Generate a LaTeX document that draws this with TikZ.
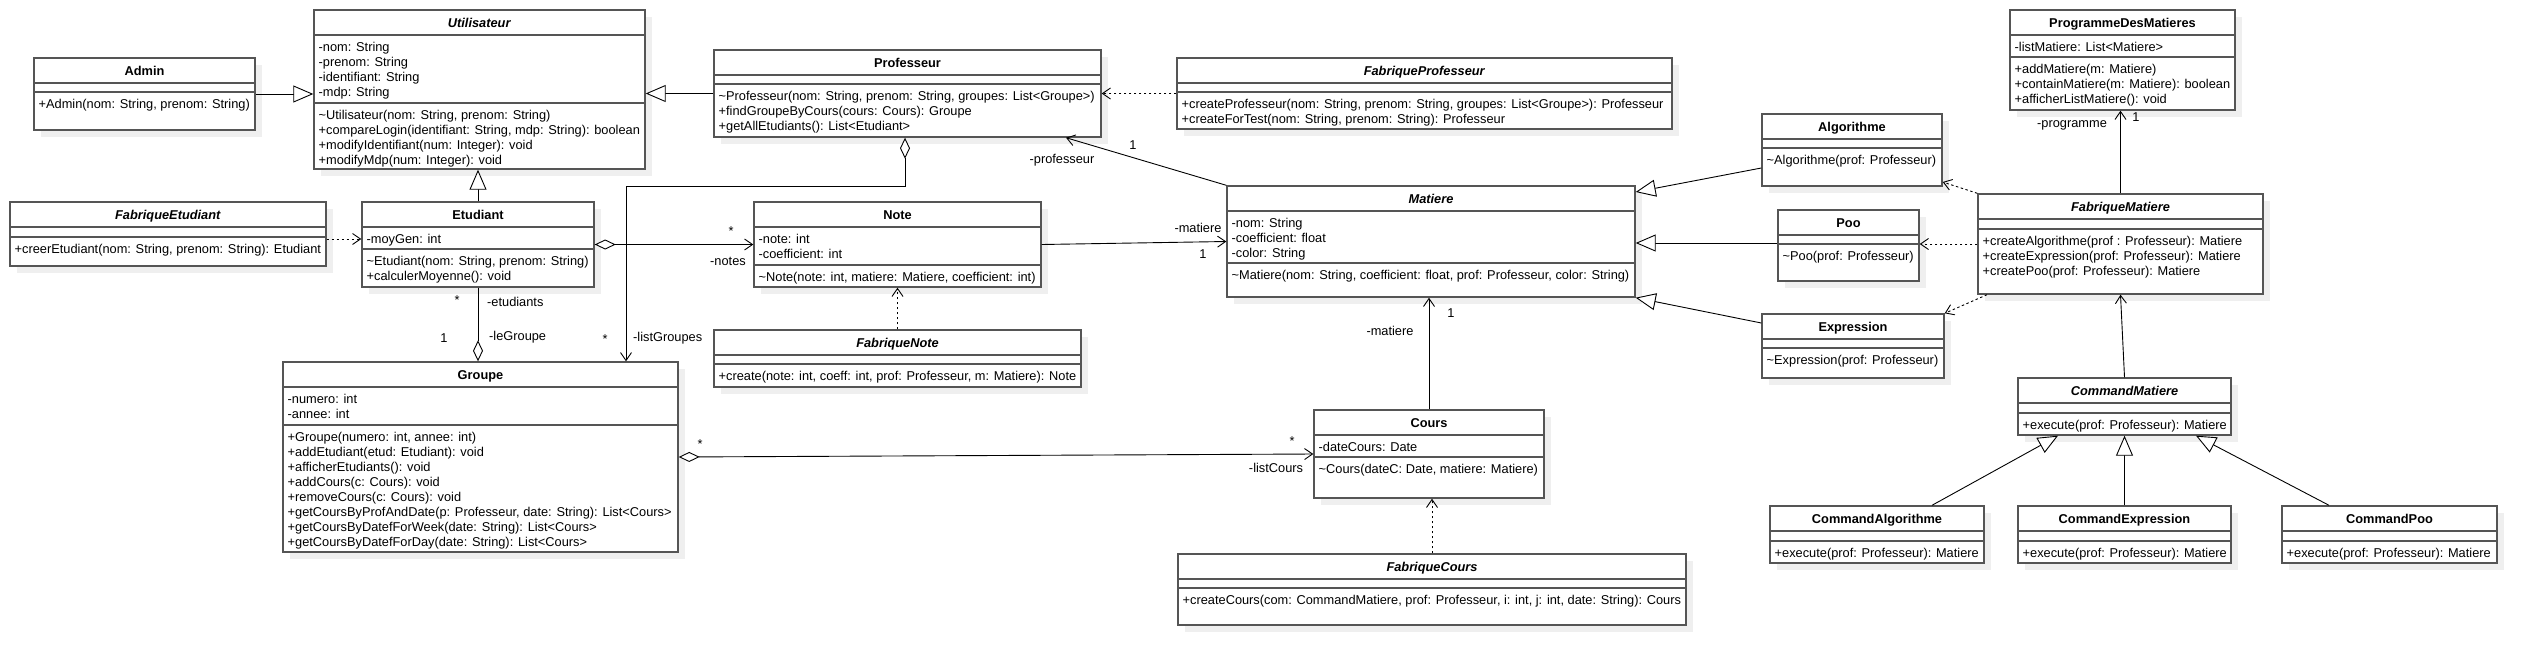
\documentclass[tikz,border=0pt]{standalone}
\usepackage{fontspec}
\setmainfont{Liberation Sans}
\usepackage{tikz}
\usetikzlibrary{arrows.meta,fit}
\definecolor{boxline}{HTML}{555555}
\definecolor{shadowgray}{HTML}{EFEFEF}
\newcommand{\umlfont}{\fontsize{12.8}{15}\selectfont}
\tikzstyle{cls_shadow} = [fill=shadowgray]
\tikzstyle{cls_box} = [rectangle, draw=boxline, fill=white, line width=1.4pt, inner sep=0pt]
\tikzstyle{cls_line} = [draw=boxline, line width=1.4pt]
\tikzstyle{cls_title} = [anchor=base, inner sep=0pt, font=\umlfont\bfseries]
\tikzstyle{cls_mem} = [anchor=north west, align=left, inner xsep=4.5pt, inner ysep=0pt]
\tikzstyle{lbl} = [inner sep=0pt, text height=9pt, text depth=3pt]
\tikzstyle{assoc} = [-{Straight Barb[length=8pt,width=11pt]}, line width=0.9pt]
\tikzstyle{gen} = [-{Triangle[open,length=20pt,width=17pt,fill=white]}, line width=0.9pt]
\tikzstyle{aggr} = [{Diamond[open,length=21pt,width=10pt,fill=white]}-{Straight Barb[length=8pt,width=11pt]}, line width=0.9pt]
\tikzstyle{aggr_end} = [-{Diamond[open,length=21pt,width=10pt,fill=white]}, line width=0.9pt]
\tikzstyle{dep} = [-{Straight Barb[length=8pt,width=11pt]}, dash pattern=on 2.5pt off 2.5pt, line width=0.9pt]
% name, left, top, right, bottom, y of member line, title, attributes, methods
\newcommand{\umlclass}[9]{%
  \fill[cls_shadow] (#2+7,#3+7) rectangle (#4+7,#5+7);
  \node[cls_box, fit={(#2,#3) (#4,#5)}] (#1) {};
  \draw[cls_line] (#2,#3+25) -- (#4,#3+25);
  \draw[cls_line] (#2,#6) -- (#4,#6);
  \node[cls_title] (#1-t) at ({(#2+#4)/2},#3+17) {#7};
  \node[cls_mem] (#1-a) at (#2,#3+25) {\rule{0pt}{16pt}#8};
  \node[cls_mem] (#1-m) at (#2,#6) {\rule{0pt}{16pt}#9};
}

\begin{document}
\begin{tikzpicture}[x=1pt, y=-1pt, font=\umlfont]
\useasboundingbox[fill=white] (0,0) rectangle (2538,665);

\umlclass{admin}{34}{58}{255}{130}{92}{Admin}{}{+Admin(nom: String, prenom: String)}
\umlclass{util}{314}{10}{645}{169}{103}{\textit{Utilisateur}}
  {-nom: String\\-prenom: String\\-identifiant: String\\-mdp: String}
  {\textasciitilde Utilisateur(nom: String, prenom: String)\\+compareLogin(identifiant: String, mdp: String): boolean\\+modifyIdentifiant(num: Integer): void\\+modifyMdp(num: Integer): void}
\umlclass{prof}{714}{50}{1101}{137}{84}{Professeur}{}
  {\textasciitilde Professeur(nom: String, prenom: String, groupes: List<Groupe>)\\+findGroupeByCours(cours: Cours): Groupe\\+getAllEtudiants(): List<Etudiant>}
\umlclass{fabprof}{1177}{58}{1672}{129}{92}{\textit{FabriqueProfesseur}}{}
  {+createProfesseur(nom: String, prenom: String, groupes: List<Groupe>): Professeur\\+createForTest(nom: String, prenom: String): Professeur}
\umlclass{fabetud}{10}{202}{326}{266}{237}{\textit{FabriqueEtudiant}}{}
  {+creerEtudiant(nom: String, prenom: String): Etudiant}
\umlclass{etud}{362}{202}{594}{287}{249}{Etudiant}{-moyGen: int}
  {\textasciitilde Etudiant(nom: String, prenom: String)\\+calculerMoyenne(): void}
\umlclass{note}{754}{202}{1041}{287}{265}{Note}{-note: int\\-coefficient: int}
  {\textasciitilde Note(note: int, matiere: Matiere, coefficient: int)}
\umlclass{fabnote}{714}{330}{1081}{387}{364}{\textit{FabriqueNote}}{}
  {+create(note: int, coeff: int, prof: Professeur, m: Matiere): Note}
\umlclass{groupe}{283}{362}{678}{552}{425}{Groupe}{-numero: int\\-annee: int}
  {+Groupe(numero: int, annee: int)\\+addEtudiant(etud: Etudiant): void\\+afficherEtudiants(): void\\+addCours(c: Cours): void\\+removeCours(c: Cours): void\\+getCoursByProfAndDate(p: Professeur, date: String): List<Cours>\\+getCoursByDatefForWeek(date: String): List<Cours>\\+getCoursByDatefForDay(date: String): List<Cours>}
\umlclass{matiere}{1227}{186}{1635}{297}{263}{\textit{Matiere}}
  {-nom: String\\-coefficient: float\\-color: String}
  {\textasciitilde Matiere(nom: String, coefficient: float, prof: Professeur, color: String)}
\umlclass{cours}{1314}{410}{1544}{498}{457}{Cours}{-dateCours: Date}
  {\textasciitilde Cours(dateC: Date, matiere: Matiere)}
\umlclass{fabcours}{1178}{554}{1686}{625}{588}{\textit{FabriqueCours}}{}
  {+createCours(com: CommandMatiere, prof: Professeur, i: int, j: int, date: String): Cours}
\umlclass{prog}{2010}{10}{2235}{110}{57}{ProgrammeDesMatieres}{-listMatiere: List<Matiere>}
  {+addMatiere(m: Matiere)\\+containMatiere(m: Matiere): boolean\\+afficherListMatiere(): void}
\umlclass{algo}{1762}{114}{1942}{186}{148}{Algorithme}{}{\textasciitilde Algorithme(prof: Professeur)}
\umlclass{poo}{1778}{210}{1919}{281}{244}{Poo}{}{\textasciitilde Poo(prof: Professeur)}
\umlclass{expr}{1762}{314}{1944}{378}{348}{Expression}{}{\textasciitilde Expression(prof: Professeur)}
\umlclass{fabmat}{1978}{194}{2263}{294}{229}{\textit{FabriqueMatiere}}{}
  {+createAlgorithme(prof : Professeur): Matiere\\+createExpression(prof: Professeur): Matiere\\+createPoo(prof: Professeur): Matiere}
\umlclass{cmdmat}{2018}{378}{2231}{435}{413}{\textit{CommandMatiere}}{}{+execute(prof: Professeur): Matiere}
\umlclass{cmdalgo}{1770}{506}{1984}{563}{541}{CommandAlgorithme}{}{+execute(prof: Professeur): Matiere}
\umlclass{cmdexpr}{2018}{506}{2231}{563}{541}{CommandExpression}{}{+execute(prof: Professeur): Matiere}
\umlclass{cmdpoo}{2282}{506}{2497}{563}{541}{CommandPoo}{}{+execute(prof: Professeur): Matiere}

% inheritance
\draw[gen] (admin.east) -- (admin.east -| util.west);
\draw[gen] (prof.west) -- (prof.west -| util.east);
\draw[gen] (etud.north) -- (etud.north |- util.south);
\draw[gen] (algo.west |- 0,168) -- (matiere.east |- 0,192);
\draw[gen] (poo.west |- 0,243) -- (matiere.east |- 0,243);
\draw[gen] (expr.west |- 0,323) -- (matiere.south east);
\draw[gen] (cmdalgo.north -| 1932,0) -- (cmdmat.south -| 2058,0);
\draw[gen] (cmdexpr.north) -- (cmdmat.south);
\draw[gen] (cmdpoo.north -| 2329,0) -- (cmdmat.south -| 2196,0);

% associations
\coordinate (bend) at (626,186);
\draw[aggr] (prof.south -| 905,0) |- (bend) -- (bend |- groupe.north);
\draw[aggr] (etud.east) -- (note.west);
\draw[aggr_end] (etud.south) -- (etud.south |- groupe.north);
\draw[aggr] (groupe.east) -- (cours.west);
\draw[assoc] (note.east) -- (matiere.west);
\draw[assoc] (matiere.north west) -- (prof.south -| 1066,0);
\draw[assoc] (cours.north) -- (cours.north |- matiere.south);
\draw[assoc] (fabmat.north) -- (fabmat.north |- prog.south);
\draw[assoc] (cmdmat.north) -- (fabmat.south);

% dependencies
\draw[dep] (fabetud.east |- 0,239) -- (etud.west |- 0,239);
\draw[dep] (fabprof.west) -- (fabprof.west -| prof.east);
\draw[dep] (fabnote.north) -- (note.south);
\draw[dep] (fabcours.north) -- (fabcours.north |- cours.south);
\draw[dep] (fabmat.north west) -- (algo.south east |- 0,182);
\draw[dep] (fabmat.west) -- (fabmat.west -| poo.east);
\draw[dep] (fabmat.south west -| 1987,0) -- (expr.north east);

% roles and multiplicities
\node[lbl] (m-notes) at (731,232) {*};
\node[lbl] (r-notes) at (728,262) {-notes};
\node[lbl] (m-etud) at (457,301) {*};
\node[lbl, anchor=west] (r-etud) at (487,303) {-etudiants};
\node[lbl] (m-legr) at (444,339) {1};
\node[lbl, anchor=west] (r-legr) at (489,337) {-leGroupe};
\node[lbl] (m-listgr) at (605,340) {*};
\node[lbl, anchor=west] (r-listgr) at (633,338) {-listGroupes};
\node[lbl] (m-grcours) at (700,445) {*};
\node[lbl] (m-listcours) at (1292,442) {*};
\node[lbl] (r-listcours) at (1276,469) {-listCours};
\node[lbl] (r-notemat) at (1198,229) {-matiere};
\node[lbl] (m-notemat) at (1203,255) {1};
\node[lbl] (m-prof) at (1133,146) {1};
\node[lbl] (r-prof) at (1062,160) {-professeur};
\node[lbl] (m-coursmat) at (1451,314) {1};
\node[lbl] (r-coursmat) at (1390,332) {-matiere};
\node[lbl] (r-prog) at (2072,124) {-programme};
\node[lbl] (m-prog) at (2136,118) {1};
\end{tikzpicture}
\end{document}
